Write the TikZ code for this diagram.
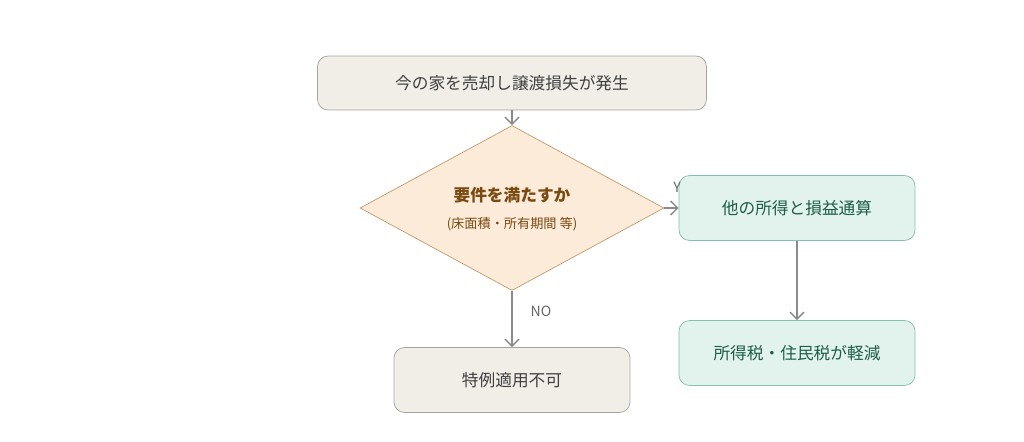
\documentclass[tikz,border=0pt]{standalone}
\usepackage{fontspec}
\setmainfont{Noto Sans CJK JP}
\usetikzlibrary{shapes.geometric,arrows.meta}
\definecolor{stepFill}{HTML}{F1EEE8}
\definecolor{stepLine}{HTML}{A8A298}
\definecolor{askFill}{HTML}{FBEBD8}
\definecolor{askLine}{HTML}{C39A6C}
\definecolor{askText}{HTML}{7A4A12}
\definecolor{okFill}{HTML}{E1F3EC}
\definecolor{okLine}{HTML}{82C2AA}
\definecolor{okText}{HTML}{1E5E45}
\definecolor{flowLine}{HTML}{8A8A8A}
\begin{document}
\begin{tikzpicture}[x=0.02cm,y=-0.02cm,
	plain/.style={draw=stepLine, fill=stepFill, rounded corners=6pt, text=black!75,
		font=\fontsize{9.5}{11}\selectfont},
	ok/.style={draw=okLine, fill=okFill, rounded corners=6pt, text=okText,
		font=\fontsize{9.5}{11}\selectfont, minimum width=4.72cm, minimum height=1.3cm},
	flow/.style={draw=flowLine, thick, -{Straight Barb[length=4pt,width=8pt]}}]
	% frame
	\useasboundingbox (0,0) rectangle (1024,442);

	% boxes
	\node[plain, minimum width=7.78cm, minimum height=1.08cm] (sale) at (512,83) {今の家を売却し譲渡損失が発生};
	\node[diamond, draw=askLine, fill=askFill, aspect=1.84, minimum width=6.08cm,
		minimum height=3.3cm, inner sep=0pt] (ask) at (512,208) {};
	\node[text=askText, font=\bfseries\fontsize{9.5}{11}\selectfont] (askA) at (512,195) {要件を満たすか};
	\node[text=askText, font=\fontsize{7.5}{9}\selectfont] (askB) at (512,224) {(床面積・所有期間 等)};
	\node[ok] (offset) at (797,208) {他の所得と損益通算};
	\node[ok] (tax) at (797,353) {所得税・住民税が軽減};
	\node[plain, minimum width=4.72cm, minimum height=1.3cm] (nope) at (512,380) {特例適用不可};

	% connectors
	\draw[flow] (sale) -- (ask);
	\draw[flow] (ask.east) -- (offset);
	\draw[flow] (offset) -- (tax);
	\draw[flow] (ask.south) -- (nope);
	\node[text=black!60, font=\fontsize{8}{9}\selectfont] (yes) at (677,187) {Y};
	\node[text=black!60, font=\fontsize{8}{9}\selectfont] (no) at (541,311) {NO};
\end{tikzpicture}
\end{document}
